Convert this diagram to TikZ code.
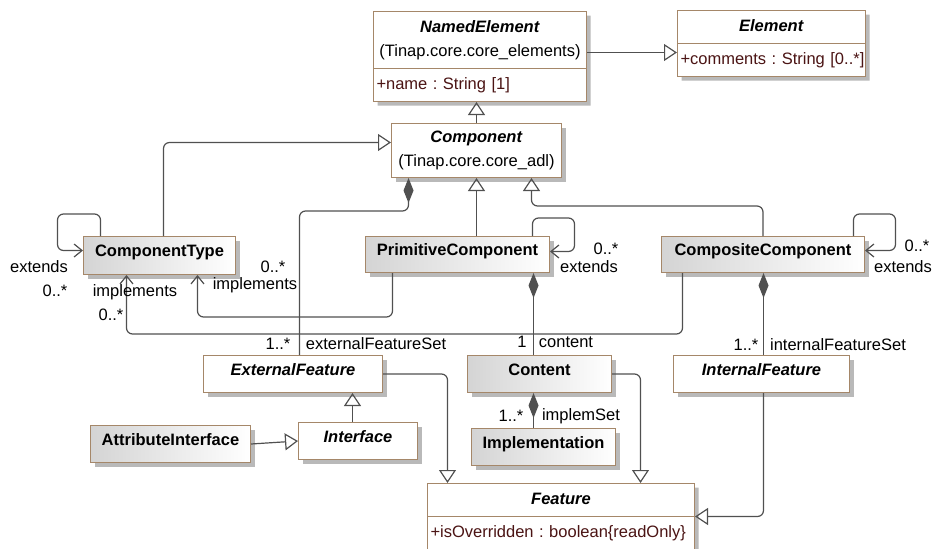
\documentclass[tikz,border=0pt]{standalone}
\usepackage{fontspec}
\setmainfont{Liberation Sans}
\usepackage{tikz}
\usetikzlibrary{arrows.meta,shapes.multipart,shadows}
\definecolor{umlborder}{RGB}{165,135,105}
\definecolor{umlline}{RGB}{80,80,80}
\definecolor{umlattr}{RGB}{75,20,20}
\definecolor{umlshadow}{RGB}{185,185,185}
\definecolor{umlgrad}{RGB}{212,212,212}
\newcommand{\ustrut}{\rule[-4.5pt]{0pt}{17pt}}
\tikzstyle{umlbox}=[draw=umlborder, line width=1pt, anchor=north west, inner sep=0pt, drop shadow={shadow xshift=4pt,shadow yshift=-4pt,fill=umlshadow,opacity=1}]
\tikzstyle{concrete}=[umlbox, left color=umlgrad, right color=white, font=\bfseries, text height=12pt, text depth=10pt]
\tikzstyle{abstract}=[umlbox, fill=white, font=\bfseries\itshape, text height=12pt, text depth=10pt]
\tikzstyle{splitbox}=[umlbox, fill=white, rectangle split, rectangle split parts=2, inner xsep=3pt, inner ysep=7.5pt]
\tikzstyle{gen}=[draw=umlline, line width=1.2pt, rounded corners=6pt, -{Triangle[open,length=13pt,width=17pt]}]
\tikzstyle{nav}=[draw=umlline, line width=1.2pt, rounded corners=6pt, -{Straight Barb[length=8pt,width=13pt]}]
\tikzstyle{comp}=[draw=umlline, line width=1.2pt, rounded corners=6pt, {Diamond[length=25pt,width=10pt,fill=umlline]}-]
\tikzstyle{lbl}=[inner sep=0pt]
\begin{document}
\fontsize{16.5}{24}\selectfont\frenchspacing
\begin{tikzpicture}[x=1pt,y=-1pt]
  \useasboundingbox (0,0) rectangle (932,549);

  % classes
  \node[splitbox, text width=207pt] (namedelement) at (373,11) {\centering\ustrut\textbf{\textit{NamedElement}}\\(Tinap.core.core\_elements)\ustrut\par
    \nodepart{two}\ustrut\textcolor{umlattr}{\mbox{+name : String [1]}}};
  \node[splitbox, text width=182pt] (element) at (677,10) {\centering\ustrut\textbf{\textit{Element}}\par
    \nodepart{two}\ustrut\textcolor{umlattr}{\mbox{+comments : String [0..*]}}};
  \node[umlbox, fill=white, minimum width=170pt, minimum height=54pt, align=center] (component) at (391,123) {\textbf{\textit{Component}}\\(Tinap.core.core\_adl)};
  \node[concrete, minimum width=152pt, minimum height=38pt] (componenttype) at (83,236) {ComponentType};
  \node[concrete, minimum width=184pt, minimum height=36pt] (primitivecomponent) at (365,236) {PrimitiveComponent};
  \node[concrete, minimum width=203pt, minimum height=36pt] (compositecomponent) at (661,236) {CompositeComponent};
  \node[abstract, minimum width=179pt, minimum height=37pt] (externalfeature) at (203,355) {ExternalFeature};
  \node[concrete, minimum width=144pt, minimum height=37pt] (content) at (467,355) {Content};
  \node[abstract, minimum width=176pt, minimum height=37pt] (internalfeature) at (673,355) {InternalFeature};
  \node[abstract, minimum width=119pt, minimum height=37pt] (interface) at (298,422) {Interface};
  \node[concrete, minimum width=160pt, minimum height=37pt] (attributeinterface) at (90,425) {AttributeInterface};
  \node[concrete, minimum width=144pt, minimum height=37pt] (implementation) at (471,428) {Implementation};
  \node[splitbox, text width=261pt] (feature) at (427,483) {\centering\ustrut\textbf{\textit{Feature}}\par
    \nodepart{two}\ustrut\textcolor{umlattr}{\mbox{+isOverridden : boolean\{readOnly\}}}};

  % generalisations
  \draw[gen] ([yshift=-9pt]element.west -| namedelement.east) -- ([yshift=-9pt]element.west);
  \draw[gen] (component.north) -- (component.north |- namedelement.south);
  \draw[gen] ([xshift=4pt]componenttype.north) |- ([yshift=8pt]component.west);
  \draw[gen] (component.south |- primitivecomponent.north) -- (component.south);
  \draw[gen] (compositecomponent.north) -- ++(0,-30) -| ([xshift=55pt]component.south);
  \draw[gen] (externalfeature.east) -| ([xshift=-113.5pt]feature.north);
  \draw[gen] (content.east) -| ([xshift=79.5pt]feature.north);
  \draw[gen] ([xshift=2pt]internalfeature.south) |- (feature.east);
  \draw[gen] ([xshift=-5.5pt]interface.north) -- ([xshift=-5.5pt]interface.north |- externalfeature.south);
  \draw[gen] (attributeinterface.east) -- (interface.west);

  % compositions
  \draw[comp] ([xshift=-68pt]component.south) -- ++(0,33) -| ([xshift=6.5pt]externalfeature.north);
  \draw[comp] ([xshift=-6pt]content.north |- primitivecomponent.south) -- ([xshift=-6pt]content.north);
  \draw[comp] ([xshift=2pt]internalfeature.north |- compositecomponent.south) -- ([xshift=2pt]internalfeature.north);
  \draw[comp] ([xshift=-6pt]content.south) -- ([xshift=-6pt]content.south |- implementation.north);

  % extends and implements
  \draw[nav] ([xshift=-59pt]componenttype.north) |- ++(-43,-22) |- ([yshift=5pt]componenttype.west);
  \draw[nav] ([xshift=75pt]primitivecomponent.north) |- ++(42,-18) |- ([yshift=3pt]primitivecomponent.east);
  \draw[nav] ([xshift=90.5pt]compositecomponent.north) |- ++(42,-22) |- ([yshift=4pt]compositecomponent.east);
  \draw[nav] ([xshift=-65pt]primitivecomponent.south) -- ++(0,44) -| ([xshift=38pt]componenttype.south);
  \draw[nav] ([xshift=-80.5pt]compositecomponent.south) -- ++(0,61) -| ([xshift=-33pt]componenttype.south);

  % labels
  \node[lbl] (ctextends) at (39,267) {extends};
  \node[lbl] (ctextendsmult) at (55,291) {0..*};
  \node[lbl] (ccimplements) at (135,292) {implements};
  \node[lbl] (ccimplmult) at (111,315) {0..*};
  \node[lbl] (pcimplmult) at (273,267) {0..*};
  \node[lbl] (pcimplements) at (255,285) {implements};
  \node[lbl] (pcextendsmult) at (606,249) {0..*};
  \node[lbl] (pcextends) at (589,267) {extends};
  \node[lbl] (ccextendsmult) at (917,246) {0..*};
  \node[lbl] (ccextends) at (903,267) {extends};
  \node[lbl] (extmult) at (278,344) {1..*};
  \node[lbl] (extrole) at (376,344) {externalFeatureSet};
  \node[lbl] (contentmult) at (522,342) {1};
  \node[lbl] (contentrole) at (566,342) {content};
  \node[lbl] (intmult) at (746,345) {1..*};
  \node[lbl] (introle) at (838,345) {internalFeatureSet};
  \node[lbl] (implmult) at (511,416) {1..*};
  \node[lbl] (implrole) at (581,416) {implemSet};
\end{tikzpicture}
\end{document}
